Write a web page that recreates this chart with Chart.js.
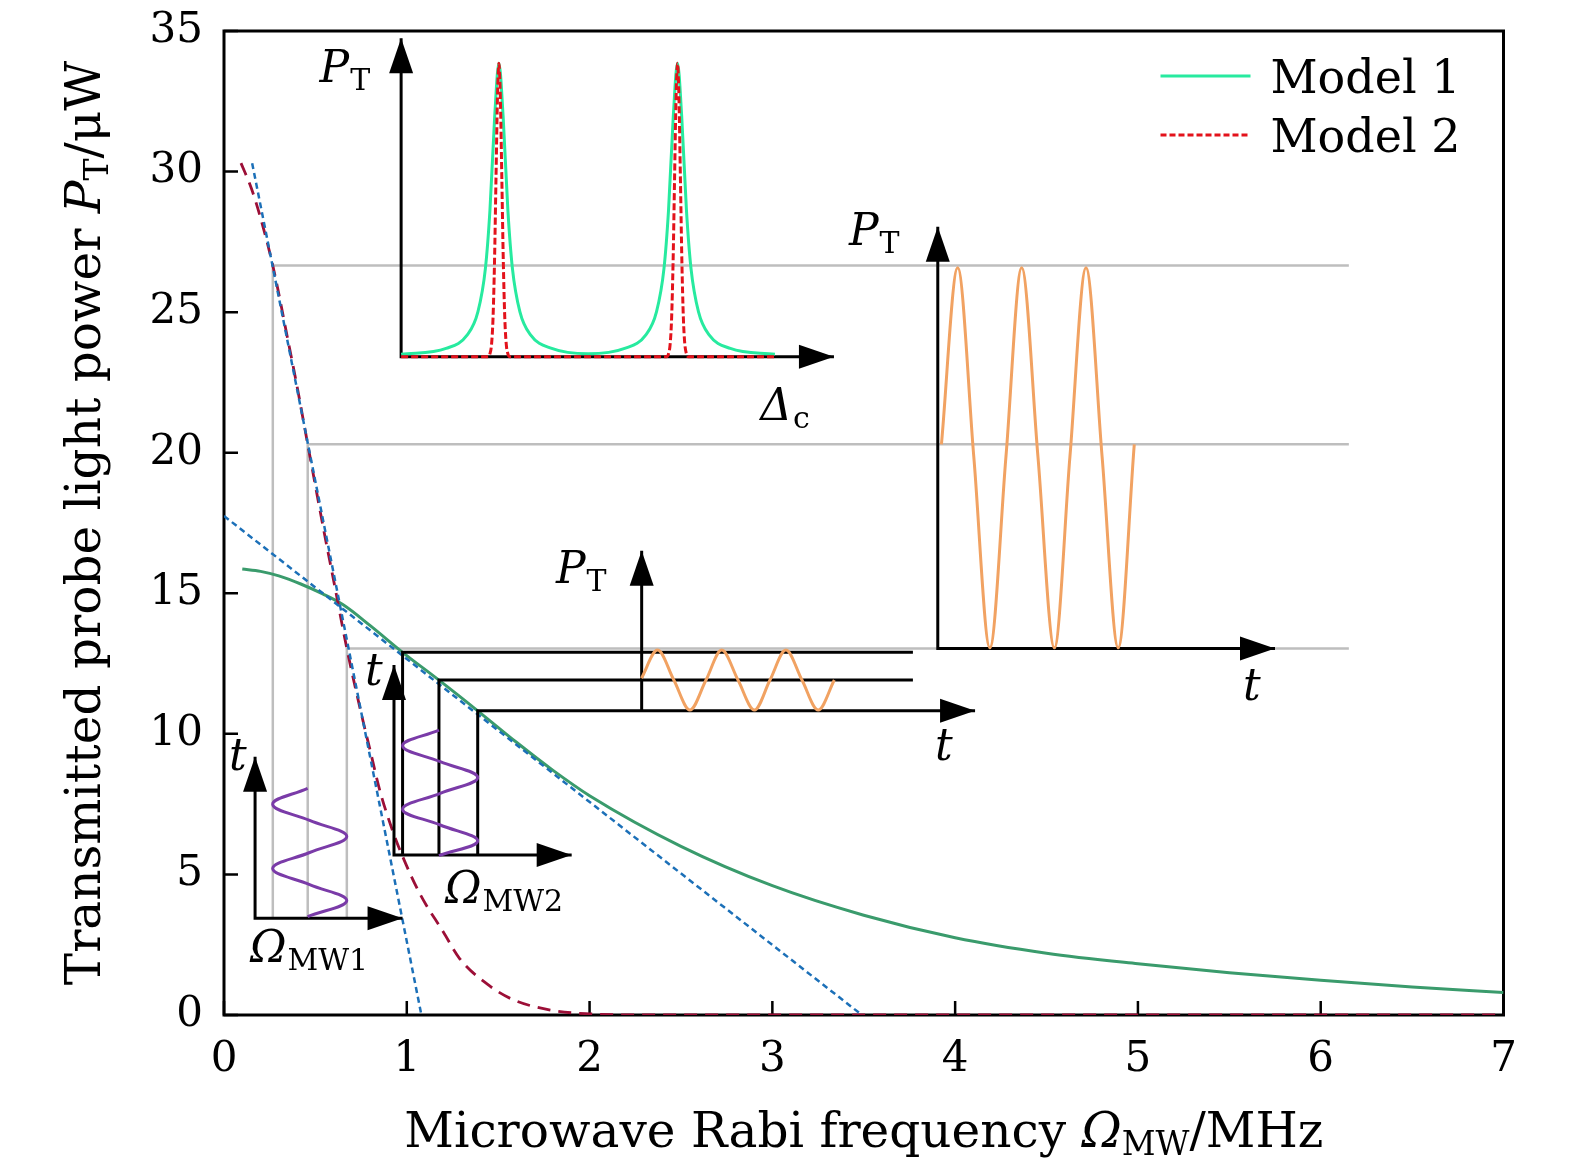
<!DOCTYPE html>
<html lang="en">
<head>
<meta charset="UTF-8">
<title>Transmitted probe light power vs microwave Rabi frequency</title>
<style>
  body { margin: 0; background: #fff; }
  #wrap { width: 1575px; height: 1171px; }
</style>
<script src="https://cdn.jsdelivr.net/npm/chart.js"></script>
</head>
<body>
<div id="wrap"><canvas id="chart" width="1575" height="1171"></canvas></div>
<script>
// axis ticks
const xTickValues = [0, 1, 2, 3, 4, 5, 6, 7];
const yTickValues = [0, 5, 10, 15, 20, 25, 30, 35];

// main response curves (x: Omega_MW in MHz, y: P_T in uW)
const model1MainX = [0.1, 0.2, 0.3, 0.42, 0.54, 0.65, 0.8, 0.977, 1.176, 1.388, 1.6, 1.8, 2.0, 2.5, 3.0, 3.5, 4.0, 4.5, 5.0, 5.5, 6.0, 6.5, 7.0];
const model1MainY = [15.86, 15.78, 15.62, 15.33, 14.98, 14.6, 13.85, 12.9, 11.91, 10.82, 9.7, 8.7, 7.8, 6.0, 4.6, 3.55, 2.75, 2.2, 1.82, 1.5, 1.24, 1.0, 0.8];

const model2MainX = [0.093, 0.15, 0.2, 0.267, 0.35, 0.4, 0.458, 0.55, 0.6, 0.672, 0.75, 0.8, 0.854, 0.92, 0.97, 1.07, 1.2, 1.29, 1.45, 1.58, 1.8, 2.0, 2.3, 7.0];
const model2MainY = [30.3, 29.4, 28.35, 26.66, 24.0, 22.35, 20.3, 17.1, 15.45, 13.04, 10.75, 9.4, 7.95, 6.6, 5.75, 4.33, 2.95, 2.0, 1.05, 0.55, 0.16, 0.04, 0, 0];

// linear slopes (two segments)
const tangentX = [0.154, 1.08, null, 0, 3.49];
const tangentY = [30.3, 0, null, 17.75, 0];

// gray guide lines (three L shapes)
const guideX = [0.267, 0.267, 6.154, null, 0.458, 0.458, 6.154, null, 0.672, 0.672, 6.154];
const guideY = [3.44, 26.66, 26.66, null, 3.44, 20.3, 20.3, null, 3.44, 13.04, 13.04];

// inset: transmission spectra vs detuning
const spec1X = [0.969, 1.215, 1.331, 1.389, 1.43, 1.455, 1.481, 1.504, 1.527, 1.553, 1.578, 1.619, 1.677, 1.793, 1.9925, 2.192, 2.308, 2.366, 2.407, 2.432, 2.458, 2.481, 2.504, 2.53, 2.555, 2.596, 2.654, 2.77, 3.014];
const spec1Y = [23.5, 23.71, 24.19, 25.01, 26.55, 28.63, 31.97, 33.85, 31.97, 28.63, 26.55, 25.01, 24.19, 23.71, 23.52, 23.71, 24.19, 25.01, 26.55, 28.63, 31.97, 33.85, 31.97, 28.63, 26.55, 25.01, 24.19, 23.71, 23.5];
const spec2X = [0.969, 1.444, 1.454, 1.464, 1.472, 1.48, 1.488, 1.496, 1.504, 1.512, 1.52, 1.528, 1.536, 1.544, 1.554, 1.564, 2.421, 2.431, 2.441, 2.449, 2.457, 2.465, 2.473, 2.481, 2.489, 2.497, 2.505, 2.513, 2.521, 2.531, 2.541, 3.014];
const spec2Y = [23.415, 23.415, 23.5, 23.87, 24.82, 26.81, 29.75, 32.6, 33.85, 32.6, 29.75, 26.81, 24.82, 23.87, 23.5, 23.415, 23.415, 23.5, 23.87, 24.82, 26.81, 29.75, 32.6, 33.85, 32.6, 29.75, 26.81, 24.82, 23.87, 23.5, 23.415, 23.415];

// microwave drive waveforms (purple)
const drive1X = [0.4575, 0.2663, 0.4685, 0.6716, 0.4685, 0.2663, 0.4685, 0.6716, 0.4575];
const drive1Y = [8.064, 7.494, 6.921, 6.353, 5.78, 5.211, 4.638, 4.069, 3.497];
const drive2X = [1.176, 0.977, 1.183, 1.388, 1.183, 0.977, 1.183, 1.388, 1.176];
const drive2Y = [10.137, 9.575, 9.01, 8.447, 7.886, 7.32, 6.758, 6.193, 5.67];

// transmitted power oscillations (orange)
const outSmallX = [2.2836, 2.372, 2.461, 2.549, 2.637, 2.723, 2.812, 2.902, 2.987, 3.074, 3.162, 3.251, 3.339];
const outSmallY = [11.974, 12.98, 11.914, 10.848, 11.914, 12.98, 11.914, 10.848, 11.914, 12.98, 11.914, 10.848, 11.914];
const outBigX = [3.925, 4.014, 4.102, 4.19, 4.278, 4.364, 4.453, 4.543, 4.628, 4.716, 4.804, 4.892, 4.98];
const outBigY = [20.3, 26.58, 19.86, 13.06, 19.86, 26.58, 19.86, 13.06, 19.86, 26.58, 19.86, 13.06, 20.3];

// black inset axes and level lines
const frameX = [0.969, 0.969, 3.337, null, 3.905, 3.905, 5.75, null, 2.285, 2.285, null,
                0.93, 0.93, 1.902, null, 0.977, 0.977, 3.769, null, 1.176, 1.176, 3.769, null,
                1.388, 1.388, 4.109, null, 0.17, 0.17, 0.977];
const frameY = [34.74, 23.415, 23.415, null, 28.04, 13.04, 13.04, null, 16.515, 10.824, null,
                12.452, 5.691, 5.691, null, 5.691, 12.9, 12.9, null, 5.691, 11.914, 11.914, null,
                5.691, 10.824, 10.824, null, 9.185, 3.439, 3.439];

// arrow tips of the inset axes
const arrowX = [0.969, 3.337, 3.905, 5.75, 2.285, 4.109, 0.93, 1.902, 0.17, 0.977];
const arrowY = [34.74, 23.415, 28.04, 13.04, 16.515, 10.824, 12.452, 5.691, 9.185, 3.439];
const arrowDir = ['up', 'right', 'up', 'right', 'up', 'right', 'up', 'right', 'up', 'right'];

// inset symbols: anchor (data units), main symbol, subscript
const symbols = [
  { x: 0.523, y: 33.17, main: 'P', sub: 'T' },
  { x: 2.934, y: 21.18, main: 'Δ', sub: 'c' },
  { x: 3.419, y: 27.39, main: 'P', sub: 'T' },
  { x: 5.575, y: 11.2, main: 't', sub: '' },
  { x: 1.816, y: 15.37, main: 'P', sub: 'T' },
  { x: 3.89, y: 9.07, main: 't', sub: '' },
  { x: 0.771, y: 11.74, main: 't', sub: '' },
  { x: 0.027, y: 8.71, main: 't', sub: '' },
  { x: 0.142, y: 1.885, main: 'Ω', sub: 'MW1' },
  { x: 1.209, y: 3.98, main: 'Ω', sub: 'MW2' }
];

const pts = (xs, ys) => xs.map((x, i) => ({ x: x, y: ys[i] }));

const FONT = '"DejaVu Serif", "Liberation Serif", serif';
const C = {
  green: '#3a9b6c', greenLight: '#27ea9f', red: '#9c0f37', redLight: '#e3121b',
  blue: '#1c70b8', purple: '#7a3ba8', orange: '#f1a262', gray: '#bebebe'
};

function drawWithSub(ctx, px, py, main, sub, mainSize, subSize, drop) {
  ctx.font = 'italic ' + mainSize + 'px ' + FONT;
  ctx.fillText(main, px, py);
  if (!sub) return;
  const w = ctx.measureText(main).width;
  ctx.font = subSize + 'px ' + FONT;
  ctx.fillText(sub, px + w + 1, py + drop);
}

const decor = {
  id: 'decor',
  beforeDatasetsDraw(chart) {
    const { ctx, chartArea: a, scales: { x, y } } = chart;
    ctx.save();
    ctx.strokeStyle = '#000';
    ctx.lineWidth = 3;
    ctx.strokeRect(a.left, a.top, a.right - a.left, a.bottom - a.top);
    // inward ticks
    ctx.lineWidth = 2.5;
    ctx.beginPath();
    yTickValues.forEach(v => {
      const py = y.getPixelForValue(v);
      ctx.moveTo(a.left, py); ctx.lineTo(a.left + 14, py);
    });
    xTickValues.forEach(v => {
      const px = x.getPixelForValue(v);
      ctx.moveTo(px, a.bottom); ctx.lineTo(px, a.bottom - 14);
    });
    ctx.stroke();
    ctx.restore();
  },
  afterDatasetsDraw(chart) {
    const { ctx, chartArea: a, scales: { x, y } } = chart;
    ctx.save();
    // arrowheads
    ctx.fillStyle = '#000';
    arrowX.forEach((v, i) => {
      const px = x.getPixelForValue(v), py = y.getPixelForValue(arrowY[i]);
      ctx.beginPath();
      ctx.moveTo(px, py);
      if (arrowDir[i] === 'up') {
        ctx.lineTo(px - 12, py + 35); ctx.lineTo(px + 12, py + 35);
      } else {
        ctx.lineTo(px - 35, py - 12); ctx.lineTo(px - 35, py + 12);
      }
      ctx.closePath();
      ctx.fill();
    });
    // inset symbols
    ctx.textBaseline = 'alphabetic';
    ctx.textAlign = 'left';
    symbols.forEach(s => {
      drawWithSub(ctx, x.getPixelForValue(s.x), y.getPixelForValue(s.y), s.main, s.sub, 44, 30, 8);
    });
    // legend
    const lx = a.right - 343;
    const items = chart.data.datasets.filter(d => d.inLegend);
    items.forEach((d, i) => {
      const ly = a.top + 45 + i * 59;
      ctx.strokeStyle = d.borderColor;
      ctx.lineWidth = 3;
      ctx.setLineDash(d.borderDash || []);
      ctx.beginPath(); ctx.moveTo(lx, ly); ctx.lineTo(lx + 90, ly); ctx.stroke();
      ctx.setLineDash([]);
      ctx.fillStyle = '#000';
      ctx.font = '46px ' + FONT;
      ctx.fillText(d.label, lx + 110, ly + 17);
    });
    ctx.restore();
  },
  afterDraw(chart) {
    const { ctx, chartArea: a } = chart;
    ctx.save();
    ctx.fillStyle = '#000';
    ctx.textBaseline = 'alphabetic';
    ctx.textAlign = 'left';
    const parts = (pieces) => {
      let total = 0;
      pieces.forEach(p => { ctx.font = p.f; p.w = ctx.measureText(p.t).width; total += p.w; });
      return total;
    };
    // x title
    const xt = [
      { t: 'Microwave Rabi frequency ', f: '48.5px ' + FONT, d: 0 },
      { t: 'Ω', f: 'italic 48.5px ' + FONT, d: 0 },
      { t: 'MW', f: '33px ' + FONT, d: 8 },
      { t: '/MHz', f: '48.5px ' + FONT, d: 0 }
    ];
    let w = parts(xt);
    let cx = (a.left + a.right) / 2 - w / 2;
    xt.forEach(p => { ctx.font = p.f; ctx.fillText(p.t, cx, 1147 + p.d); cx += p.w; });
    // y title (rotated)
    const yt = [
      { t: 'Transmitted probe light power ', f: '48.5px ' + FONT, d: 0 },
      { t: 'P', f: 'italic 48.5px ' + FONT, d: 0 },
      { t: 'T', f: '33px ' + FONT, d: 8 },
      { t: '/μW', f: '48.5px ' + FONT, d: 0 }
    ];
    w = parts(yt);
    ctx.translate(100, (a.top + a.bottom) / 2);
    ctx.rotate(-Math.PI / 2);
    cx = -w / 2;
    yt.forEach(p => { ctx.font = p.f; ctx.fillText(p.t, cx, p.d); cx += p.w; });
    ctx.restore();
  }
};

const base = { pointRadius: 0, fill: false, spanGaps: false, borderCapStyle: 'butt' };
const noPad = s => { s.paddingTop = 0; s.paddingBottom = 0; s.paddingLeft = 0; s.paddingRight = 0; };

new Chart(document.getElementById('chart'), {
  type: 'line',
  data: {
    datasets: [
      Object.assign({}, base, { label: 'Model 2', data: pts(spec2X, spec2Y), borderColor: C.redLight, borderWidth: 3, borderDash: [7, 3], cubicInterpolationMode: 'monotone', order: 1 }),
      Object.assign({}, base, { label: 'Model 1', data: pts(spec1X, spec1Y), borderColor: C.greenLight, borderWidth: 3, cubicInterpolationMode: 'monotone', order: 2 }),
      Object.assign({}, base, { label: 'Drive 1', data: pts(drive1X, drive1Y), borderColor: C.purple, borderWidth: 3, tension: 0.4, order: 3 }),
      Object.assign({}, base, { label: 'Drive 2', data: pts(drive2X, drive2Y), borderColor: C.purple, borderWidth: 3, tension: 0.4, order: 3 }),
      Object.assign({}, base, { label: 'Output small', data: pts(outSmallX, outSmallY), borderColor: C.orange, borderWidth: 3, cubicInterpolationMode: 'monotone', order: 3 }),
      Object.assign({}, base, { label: 'Output large', data: pts(outBigX, outBigY), borderColor: C.orange, borderWidth: 3, cubicInterpolationMode: 'monotone', order: 3 }),
      Object.assign({}, base, { label: 'Inset axes', data: pts(frameX, frameY), borderColor: '#000', borderWidth: 3, borderJoinStyle: 'miter', order: 4 }),
      Object.assign({}, base, { label: 'Slopes', data: pts(tangentX, tangentY), borderColor: C.blue, borderWidth: 2.5, borderDash: [6, 4], order: 5 }),
      Object.assign({}, base, { label: 'Model 2 main', data: pts(model2MainX, model2MainY), borderColor: C.red, borderWidth: 2.8, borderDash: [13, 8], cubicInterpolationMode: 'monotone', order: 6 }),
      Object.assign({}, base, { label: 'Model 1 main', data: pts(model1MainX, model1MainY), borderColor: C.green, borderWidth: 3, cubicInterpolationMode: 'monotone', order: 7 }),
      Object.assign({}, base, { label: 'Guides', data: pts(guideX, guideY), borderColor: C.gray, borderWidth: 2.5, order: 8 }),
      // legend entries
      Object.assign({}, base, { label: 'Model 1', inLegend: true, data: [], borderColor: C.greenLight }),
      Object.assign({}, base, { label: 'Model 2', inLegend: true, data: [], borderColor: C.redLight, borderDash: [6, 3] })
    ]
  },
  options: {
    responsive: false,
    animation: false,
    devicePixelRatio: 1,
    layout: { padding: { top: 31, right: 71.5, left: 0, bottom: 0 } },
    plugins: { legend: { display: false }, tooltip: { enabled: false } },
    scales: {
      x: {
        type: 'linear', min: 0, max: 7,
        afterFit: s => { s.height = 156; noPad(s); },
        grid: { display: false, drawTicks: false },
        border: { display: false },
        ticks: { stepSize: 1, padding: 20, color: '#000', maxRotation: 0, autoSkip: false, font: { family: FONT, size: 42 } }
      },
      y: {
        type: 'linear', min: 0, max: 35,
        afterFit: s => { s.width = 224; noPad(s); },
        grid: { display: false, drawTicks: false },
        border: { display: false },
        ticks: { stepSize: 5, padding: 21, color: '#000', font: { family: FONT, size: 42 } }
      }
    }
  },
  plugins: [decor]
});
</script>
</body>
</html>
